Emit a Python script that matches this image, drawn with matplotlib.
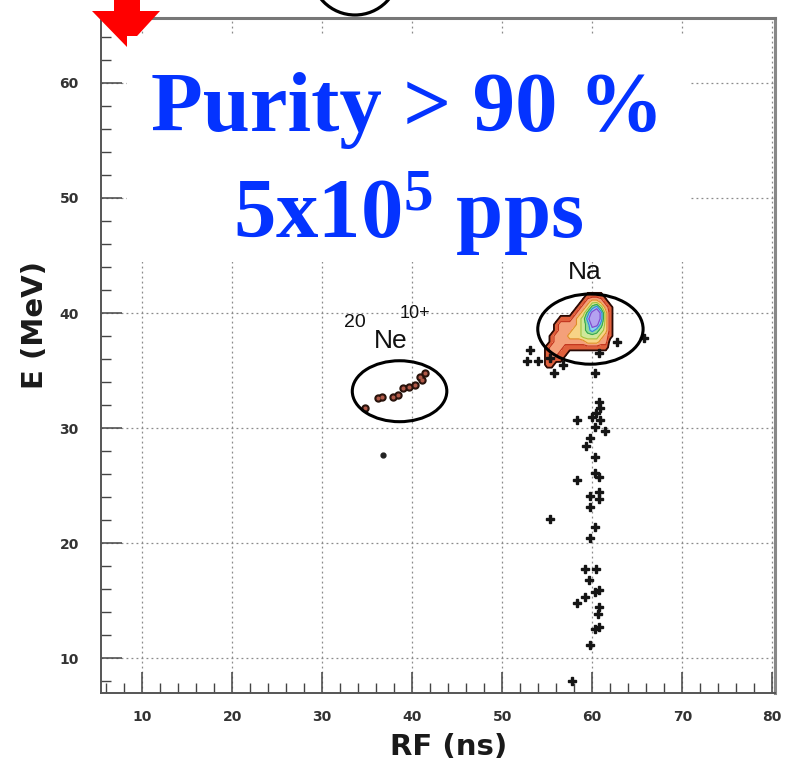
import matplotlib
matplotlib.use("Agg")
import matplotlib.pyplot as plt
from matplotlib.patches import Ellipse, Polygon, Rectangle
from matplotlib.ticker import MultipleLocator
import numpy as np

W, H = 785, 767
plt.rcParams["mathtext.default"] = "regular"

# ---- scattered events (RF in ns, E in MeV) ----
tail_rf = [55.7, 60.3, 60.8, 60.9, 60.4, 60.0, 58.3, 60.9, 60.3, 61.4, 59.8,
           59.3, 60.3, 60.3, 60.7, 58.3, 60.8, 59.8, 60.8, 59.8, 55.3, 60.3,
           59.8, 59.2, 60.4, 59.6, 60.7, 60.3, 59.2, 58.3, 60.8, 60.6, 60.7,
           60.3, 59.8, 57.8]
tail_e = [34.8, 34.8, 32.3, 31.7, 31.3, 31.0, 30.7, 30.7, 30.1, 29.7, 29.1,
          28.4, 27.5, 26.1, 25.7, 25.5, 24.4, 24.1, 23.8, 23.1, 22.1, 21.4,
          20.4, 17.7, 17.7, 16.8, 15.9, 15.7, 15.3, 14.8, 14.4, 13.8, 12.7,
          12.5, 11.1, 8.0]

halo_rf = [53.1, 52.8, 54.0, 55.3, 56.8, 62.8, 65.7, 60.7]
halo_e = [36.8, 35.8, 35.8, 36.1, 35.5, 37.5, 37.8, 36.5]

ne_rf = [34.8, 36.2, 36.7, 37.9, 38.4, 39.0, 39.6, 40.3, 40.9, 41.1, 41.4]
ne_e = [31.7, 32.6, 32.7, 32.7, 32.9, 33.5, 33.6, 33.7, 34.4, 34.2, 34.8]
ne_stray_rf = [36.8]
ne_stray_e = [27.65]

# ---- 2-D histogram of the Na peak ----
na_rf_bins = [54.5, 55.0, 55.5, 56.0, 56.5, 57.0, 57.5, 58.0, 58.5,
              59.0, 59.5, 60.0, 60.5, 61.0, 61.5, 62.0, 62.5]
na_e_bins = [42.0, 41.5, 41.0, 40.5, 40.0, 39.5, 39.0, 38.5,
             38.0, 37.5, 37.0, 36.5, 36.0, 35.5, 35.0]
na_counts = [
    [0, 0, 0, 0, 0, 0, 0, 0, 0, 0, 0, 0, 0, 0, 0, 0, 0],
    [0, 0, 0, 0, 0, 0, 0, 0, 0, 0, 1, 1, 1, 1, 0, 0, 0],
    [0, 0, 0, 0, 0, 0, 0, 0, 0, 1, 2, 3, 3, 2, 1, 0, 0],
    [0, 0, 0, 0, 0, 0, 0, 0, 1, 2, 3, 5, 6, 4, 2, 1, 0],
    [0, 0, 0, 0, 0, 0, 0, 1, 2, 3, 5, 7, 8, 6, 3, 1, 0],
    [0, 0, 0, 0, 1, 1, 1, 2, 3, 4, 6, 8, 8, 6, 3, 1, 0],
    [0, 0, 0, 1, 2, 2, 2, 2, 3, 4, 5, 7, 7, 5, 3, 1, 0],
    [0, 0, 0, 1, 2, 2, 2, 3, 3, 4, 5, 6, 5, 4, 3, 1, 0],
    [0, 0, 1, 2, 2, 2, 3, 3, 3, 4, 4, 4, 4, 3, 2, 1, 0],
    [0, 0, 1, 2, 2, 2, 2, 2, 2, 2, 3, 3, 3, 2, 2, 0, 0],
    [0, 1, 2, 2, 2, 1, 1, 1, 1, 1, 1, 1, 1, 1, 1, 0, 0],
    [0, 1, 2, 2, 1, 1, 0, 0, 0, 0, 0, 0, 0, 0, 0, 0, 0],
    [0, 1, 2, 1, 1, 0, 0, 0, 0, 0, 0, 0, 0, 0, 0, 0, 0],
    [0, 1, 1, 0, 0, 0, 0, 0, 0, 0, 0, 0, 0, 0, 0, 0, 0],
    [0, 0, 0, 0, 0, 0, 0, 0, 0, 0, 0, 0, 0, 0, 0, 0, 0],
]
na_levels = [0.5, 1.5, 2.5, 3.5, 4.5, 5.5, 6.5, 9.0]
na_fill = ["#e0603c", "#f4a07a", "#f7d486", "#cfe89a",
           "#8fdc9a", "#8cd4ee", "#b4a2f0"]
na_edge = ["#2a0a05", "#c0301a", "#e08a2a", "#a8c03a",
           "#3aa84a", "#3a8ad8", "#8050d0"]

# ---- selection ellipses: (centre RF, centre E, width, height) ----
na_gate = (59.8, 38.6, 11.7, 6.1)
ne_gate = (38.6, 33.2, 10.5, 5.3)

x_ticks = [10, 20, 30, 40, 50, 60, 70, 80]
y_ticks = [10, 20, 30, 40, 50, 60]

fig = plt.figure(figsize=(W / 100, H / 100), dpi=100)
fig.patch.set_facecolor("white")


def fx(px):
    return px / W


def fy(py):
    return 1 - py / H


ax = fig.add_axes([fx(101), fy(693), fx(775) - fx(101), fy(18) - fy(693)])
ax.set_xlim(5.44, 80.3)
ax.set_ylim(6.96, 65.65)

ax.set_xticks(x_ticks)
ax.set_yticks(y_ticks)
ax.xaxis.set_minor_locator(MultipleLocator(2))
ax.yaxis.set_minor_locator(MultipleLocator(2))
ax.tick_params(which="major", direction="in", length=15, width=1.1,
               color="#444444", labelsize=10, labelcolor="#333333")
ax.tick_params(which="minor", direction="in", length=7, width=1.0,
               color="#444444")
ax.tick_params(axis="x", which="major", pad=12)
ax.tick_params(axis="y", which="major", pad=16)
for lab in ax.get_xticklabels() + ax.get_yticklabels():
    lab.set_fontweight("bold")
ax.grid(True, which="major", linestyle=(0, (1.5, 2.5)), color="#8a8a8a",
        linewidth=0.9)
for s in ax.spines.values():
    s.set_color("#555555")
    s.set_linewidth(1.4)
ax.spines["top"].set_linewidth(2.2)
ax.spines["top"].set_color("#777777")
ax.spines["right"].set_linewidth(2.2)
ax.spines["right"].set_color("#888888")

# Na peak density
counts = np.array(na_counts, dtype=float)
ax.contourf(na_rf_bins, na_e_bins, counts, levels=na_levels,
            colors=na_fill, zorder=3)
ax.contour(na_rf_bins, na_e_bins, counts, levels=na_levels[:-1],
           colors=na_edge, linewidths=[1.3, 0.8, 0.8, 0.8, 0.8, 0.9, 0.9],
           zorder=4)

# single events
ax.plot(tail_rf, tail_e, linestyle="none", marker="P", markersize=6,
        color="#151515", zorder=5)
ax.plot(halo_rf, halo_e, linestyle="none", marker="P", markersize=6,
        color="#151515", zorder=5)
ax.plot(ne_rf, ne_e, linestyle="none", marker="o", markersize=5,
        color="#3c1c18", markeredgecolor="#241008", zorder=5)
ax.plot(ne_rf, ne_e, linestyle="none", marker="o", markersize=1.8,
        color="#b05a48", zorder=6)
ax.plot(ne_stray_rf, ne_stray_e, linestyle="none", marker="o",
        markersize=3.5, color="#222222", zorder=5)

# selection gates
for cx, cy, w, h in (na_gate, ne_gate):
    ax.add_patch(Ellipse((cx, cy), w, h, fill=False, edgecolor="black",
                         linewidth=2.2, zorder=7))

# ion labels
lab_kw = dict(family="Liberation Sans", color="#111111", ha="center",
              va="center", zorder=8)
ax.text(59.2, 43.6, "Na", fontsize=19, **lab_kw)
ax.text(33.6, 39.2, "20", fontsize=14, **lab_kw)
ax.text(37.6, 37.6, "Ne", fontsize=19, **lab_kw)
ax.text(40.3, 40.0, "10+", fontsize=13, **lab_kw)

# axis titles
fig.text(fx(449), fy(747), "RF (ns)", fontsize=21, fontweight="bold",
         color="#1a1a1a", ha="center", va="center")
fig.text(fx(35), fy(325), "E (MeV)", fontsize=21, fontweight="bold",
         color="#1a1a1a", ha="center", va="center", rotation=90)

# pointer arrow
arrow_px = [(114, -2), (140, -2), (140, 11), (160, 11), (127, 47),
            (92, 11), (114, 11)]
fig.add_artist(Polygon([(fx(x), fy(y)) for x, y in arrow_px], closed=True,
                       facecolor="#ff0000", edgecolor="none", zorder=2))

# circle marker at the top edge
fig.add_artist(Ellipse((fx(355), fy(-29)), 88 / W, 88 / H, fill=False,
                       edgecolor="black", linewidth=2.3, zorder=2))

# annotation panel
fig.add_artist(Rectangle((fx(127), fy(262)), fx(690) - fx(127),
                         fy(36) - fy(262), facecolor="white",
                         edgecolor="none", zorder=3))
fig.text(fx(407), fy(131), "Purity > 90 %", fontsize=61,
         family="Liberation Serif", fontweight="bold", color="#0433ff",
         ha="center", va="baseline", zorder=4)
fig.text(fx(408), fy(238), "5x10$^5$ pps", fontsize=61,
         family="Liberation Serif", fontweight="bold", color="#0433ff",
         ha="center", va="baseline", zorder=4)

fig.savefig("out.png", dpi=100, facecolor="white")
